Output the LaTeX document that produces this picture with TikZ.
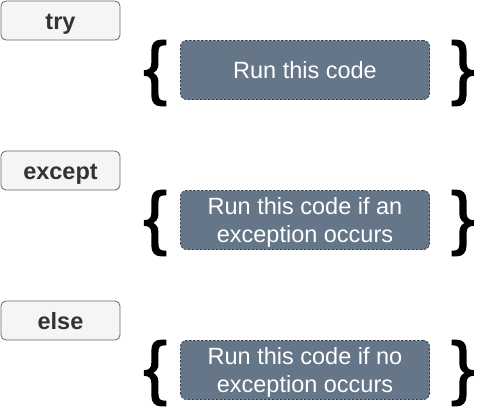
\documentclass[tikz,border=0pt]{standalone}
\usepackage{fontspec}
\setmainfont{Liberation Sans}
\newfontfamily\bracefont[FakeBold=2]{Liberation Sans}
\usetikzlibrary{positioning}

\definecolor{keyfill}{HTML}{F5F5F5}
\definecolor{keyline}{HTML}{666666}
\definecolor{keytext}{HTML}{333333}
\definecolor{codefill}{HTML}{647687}
\definecolor{codeline}{HTML}{314354}

\tikzset{
  keybox/.style={rectangle,draw=keyline,fill=keyfill,text=keytext,line width=0.8pt,
    rounded corners=5pt,minimum width=119pt,minimum height=39pt,
    text height=17pt,text depth=0pt,
    font=\fontsize{23.5}{27}\selectfont\bfseries},
  codebox/.style={rectangle,draw=codeline,fill=codefill,text=white,line width=0.8pt,
    dash pattern=on 2.5pt off 1.5pt,rounded corners=6pt,
    minimum width=249pt,minimum height=59pt,align=center,text depth=0pt,
    font=\fontsize{23.5}{28}\selectfont},
  bracenode/.style={inner sep=0pt,font=\bracefont\fontsize{70}{70}\selectfont}
}

\begin{document}
\begin{tikzpicture}[x=1pt,y=-1pt]
\useasboundingbox (0,0) rectangle (491,408);

% try block
\node[keybox] (try) at (60.5,20.5) {try};
\node[codebox] (tryrun) at (305,70) {Run this code};
\node[bracenode,left=13pt of tryrun,yshift=-3pt] (tryopen) {\{};
\node[bracenode,right=21pt of tryrun,yshift=-3pt] (tryclose) {\}};

% except block
\node[keybox] (except) at (60.5,170.5) {except};
\node[codebox] (exceptrun) at (305,220) {Run this code if an\\exception occurs};
\node[bracenode,left=13pt of exceptrun,yshift=-3pt] (exceptopen) {\{};
\node[bracenode,right=21pt of exceptrun,yshift=-3pt] (exceptclose) {\}};

% else block
\node[keybox] (else) at (60.5,320.5) {else};
\node[codebox] (elserun) at (305,370) {Run this code if no\\exception occurs};
\node[bracenode,left=13pt of elserun,yshift=-3pt] (elseopen) {\{};
\node[bracenode,right=21pt of elserun,yshift=-3pt] (elseclose) {\}};

\end{tikzpicture}
\end{document}
